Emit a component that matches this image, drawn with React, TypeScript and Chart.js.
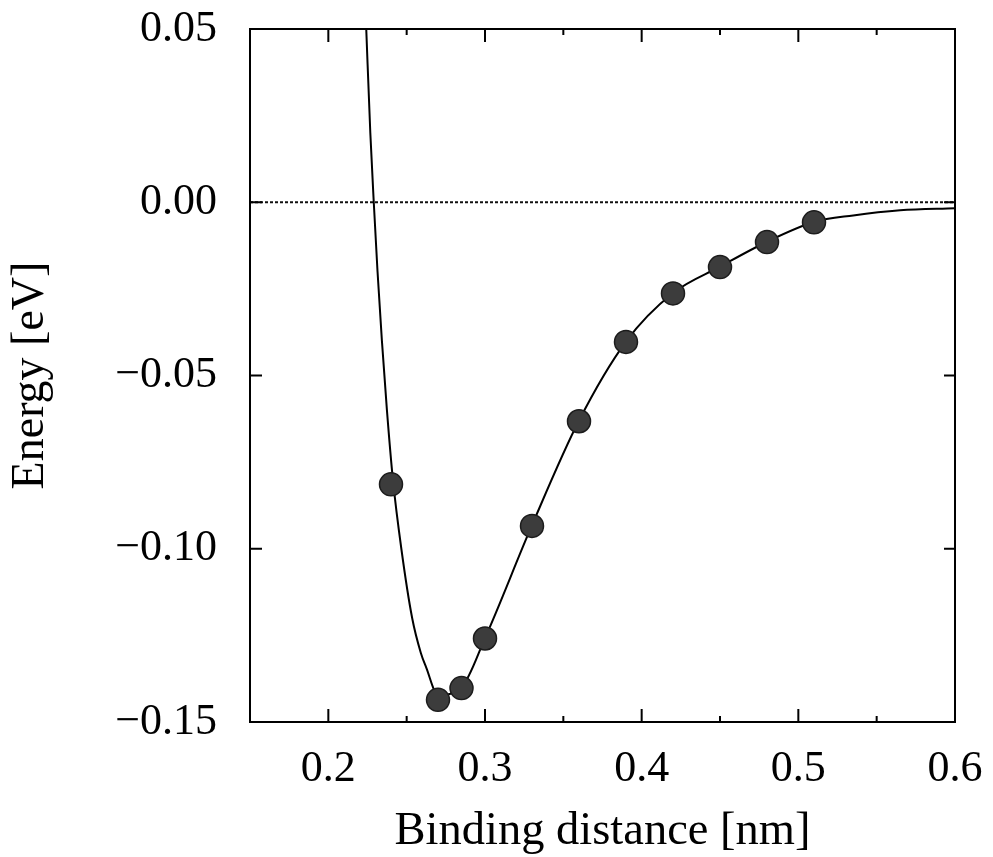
import React, { useEffect, useRef } from "react";
import { Chart, registerables } from "chart.js";

Chart.register(...registerables);

// Fitted potential curve
const curveX = [
  0.2242, 0.2268, 0.229, 0.2314, 0.2342, 0.2374, 0.2412, 0.2466, 0.2535, 0.259,
  0.2625, 0.27, 0.285, 0.3, 0.33, 0.36, 0.39, 0.42, 0.45, 0.48, 0.51, 0.535, 0.565, 0.6,
];
const curveY = [
  0.05, 0.02, 0.0, -0.02, -0.04, -0.06, -0.08, -0.1, -0.12, -0.13,
  -0.1343, -0.1422, -0.14, -0.1258, -0.0932, -0.063, -0.0402, -0.0262, -0.0186, -0.0114,
  -0.0057, -0.0038, -0.0023, -0.0017,
];

// Computed data points (markers)
const markerX = [0.24, 0.27, 0.285, 0.3, 0.33, 0.36, 0.39, 0.42, 0.45, 0.48, 0.51];
const markerY = [-0.0814, -0.1436, -0.1402, -0.1259, -0.0934, -0.0632, -0.0403, -0.0263, -0.0187, -0.0115, -0.0058];

// Dotted zero reference line
const zeroLineX = [0.15, 0.6];
const zeroLineY = [0, 0];

// Axes
const xMin = 0.15;
const xMax = 0.6;
const yMin = -0.15;
const yMax = 0.05;
const xMajorTicks = [0.2, 0.3, 0.4, 0.5, 0.6];
const xMinorTicks = [0.25, 0.35, 0.45, 0.55];
const yMajorTicks = [-0.15, -0.1, -0.05, 0, 0.05];
const xTitle = "Binding distance [nm]";
const yTitle = "Energy [eV]";

const FONT = "'Liberation Serif', 'Times New Roman', Times, serif";

const framePlugin = {
  id: "frameTicks",
  afterDatasetsDraw(chart: any) {
    const { ctx, chartArea, scales } = chart;
    const { left, right, top, bottom } = chartArea;
    const xs = scales.x;
    const ys = scales.y;
    ctx.save();
    ctx.strokeStyle = "#000";
    ctx.lineWidth = 2;
    ctx.strokeRect(left, top, right - left, bottom - top);
    ctx.beginPath();
    xMajorTicks.forEach((v) => {
      const px = xs.getPixelForValue(v);
      ctx.moveTo(px, bottom);
      ctx.lineTo(px, bottom - 13);
      ctx.moveTo(px, top);
      ctx.lineTo(px, top + 13);
    });
    xMinorTicks.forEach((v) => {
      const px = xs.getPixelForValue(v);
      ctx.moveTo(px, bottom);
      ctx.lineTo(px, bottom - 6);
      ctx.moveTo(px, top);
      ctx.lineTo(px, top + 6);
    });
    yMajorTicks.forEach((v) => {
      const py = ys.getPixelForValue(v);
      ctx.moveTo(left, py);
      ctx.lineTo(left + 12, py);
      ctx.moveTo(right, py);
      ctx.lineTo(right - 11, py);
    });
    ctx.stroke();
    ctx.restore();
  },
};

export default function App() {
  const canvasRef = useRef<HTMLCanvasElement | null>(null);

  useEffect(() => {
    if (!canvasRef.current) return;
    const chart = new Chart(canvasRef.current, {
      type: "line",
      data: {
        datasets: [
          {
            label: "points",
            data: markerX.map((x, i) => ({ x, y: markerY[i] })),
            showLine: false,
            pointRadius: 11.5,
            pointBackgroundColor: "#3c3c3c",
            pointBorderColor: "#1c1c1c",
            pointBorderWidth: 1.5,
            order: 0,
          },
          {
            label: "curve",
            data: curveX.map((x, i) => ({ x, y: curveY[i] })),
            borderColor: "#000",
            borderWidth: 2,
            pointRadius: 0,
            cubicInterpolationMode: "monotone",
            order: 1,
          },
          {
            label: "zero",
            data: zeroLineX.map((x, i) => ({ x, y: zeroLineY[i] })),
            borderColor: "#111",
            borderWidth: 1.8,
            borderDash: [3, 2],
            pointRadius: 0,
            order: 2,
          },
        ],
      },
      options: {
        responsive: false,
        maintainAspectRatio: false,
        devicePixelRatio: 1,
        animation: false,
        layout: { padding: { top: 29, right: 38, left: 0, bottom: 0 } },
        plugins: {
          legend: { display: false },
          tooltip: { enabled: false },
        },
        scales: {
          x: {
            type: "linear",
            min: xMin,
            max: xMax,
            afterBuildTicks: (s: any) => {
              s.ticks = xMajorTicks.map((v) => ({ value: v }));
            },
            afterFit: (s: any) => {
              s.height = 135;
              s.paddingLeft = 0;
              s.paddingRight = 0;
            },
            grid: { display: false, drawTicks: false },
            border: { display: false },
            ticks: {
              padding: 21,
              color: "#000",
              maxRotation: 0,
              autoSkip: false,
              font: { family: FONT, size: 44 },
              callback: (v: any) => Number(v).toFixed(1),
            },
            title: {
              display: true,
              text: xTitle,
              color: "#000",
              font: { family: FONT, size: 46.5, lineHeight: 1 },
              padding: { top: 0, bottom: 2 },
            },
          },
          y: {
            type: "linear",
            min: yMin,
            max: yMax,
            afterBuildTicks: (s: any) => {
              s.ticks = yMajorTicks.map((v) => ({ value: v }));
            },
            afterFit: (s: any) => {
              s.width = 250;
              s.paddingTop = 0;
              s.paddingBottom = 0;
            },
            grid: { display: false, drawTicks: false },
            border: { display: false },
            ticks: {
              padding: 33,
              color: "#000",
              autoSkip: false,
              font: { family: FONT, size: 44 },
              callback: (v: any) => Number(v).toFixed(2).replace("-", "\u2212"),
            },
            title: {
              display: true,
              text: yTitle,
              color: "#000",
              font: { family: FONT, size: 46, lineHeight: 1 },
              padding: { top: 8, bottom: 0 },
            },
          },
        },
      },
      plugins: [framePlugin],
    } as any);
    return () => chart.destroy();
  }, []);

  return (
    <div style={{ position: "fixed", left: 0, top: 0, width: 993, height: 857, background: "#fff" }}>
      <canvas ref={canvasRef} width={993} height={857} />
    </div>
  );
}
